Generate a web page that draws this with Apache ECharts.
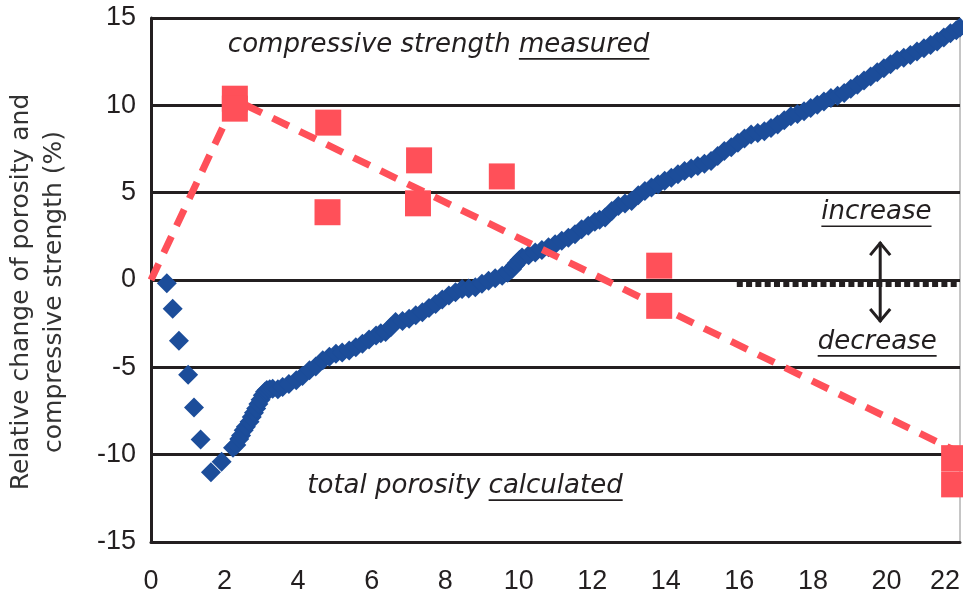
<!DOCTYPE html>
<html>
<head>
<meta charset="utf-8">
<script src="https://cdn.jsdelivr.net/npm/echarts@6/dist/echarts.min.js"></script>
<style>
  html, body { margin: 0; padding: 0; background: #ffffff; }
  #chart { width: 963px; height: 595px; }
</style>
</head>
<body>
<div id="chart"></div>
<script>
// Axis ticks
const xTicks = [0, 2, 4, 6, 8, 10, 12, 14, 16, 18, 20, 22];
const yTicks = [-15, -10, -5, 0, 5, 10, 15];

// Compressive strength, measured (relative change, %)
const strengthMeasured = [
  [2.28, 10.38], [2.28, 9.81], [4.82, 9.01], [4.80, 3.88],
  [7.29, 6.85], [7.26, 4.39], [9.54, 5.93],
  [13.82, 0.82], [13.82, -1.48],
  [21.84, -10.2], [21.84, -11.7]
];

// Trend through the measured strength
const strengthTrend = [[0, 0], [2.30, 10.3], [22, -9.9]];

// Total porosity, calculated (relative change, %)
const porosityCalculated = [
  [0.43, -0.19], [0.59, -1.65], [0.76, -3.48], [1.01, -5.42], [1.17, -7.30],
  [1.35, -9.13], [1.63, -11.0], [1.92, -10.4], [2.23, -9.6],
  [2.32, -9.45], [2.40, -9.1], [2.45, -8.9], [2.52, -8.6], [2.58, -8.4], [2.68, -8.12],
  [2.74, -7.85], [2.80, -7.6], [2.86, -7.35], [2.92, -7.1], [2.98, -6.85],
  [3.04, -6.6], [3.10, -6.4], [3.15, -6.3], [3.23, -6.25], [3.31, -6.22], [3.45, -6.25],
  [3.58, -6.12], [3.75, -5.95], [3.95, -5.74], [4.12, -5.5], [4.31, -5.17],
  [4.48, -4.95], [4.67, -4.6], [4.85, -4.4], [5.03, -4.22], [5.20, -4.15],
  [5.39, -4.03], [5.57, -3.85], [5.75, -3.65], [5.93, -3.4], [6.12, -3.18],
  [6.25, -3.05], [6.38, -2.98], [6.52, -2.7], [6.65, -2.41], [6.84, -2.35],
  [7.02, -2.22], [7.20, -2.02], [7.38, -1.84], [7.56, -1.6], [7.74, -1.37],
  [7.92, -1.12], [8.10, -0.89], [8.28, -0.7], [8.46, -0.51], [8.64, -0.48],
  [8.82, -0.42], [9.00, -0.22], [9.18, -0.04], [9.36, 0.1], [9.55, 0.25],
  [9.70, 0.42], [9.82, 0.63], [9.90, 0.85], [9.95, 0.98], [10.02, 1.15], [10.09, 1.29], [10.27, 1.42],
  [10.45, 1.58], [10.63, 1.72], [10.81, 1.87], [10.99, 2.05], [11.17, 2.24],
  [11.35, 2.42], [11.53, 2.62], [11.71, 2.9], [11.89, 3.1], [12.07, 3.33],
  [12.20, 3.45], [12.35, 3.58], [12.53, 3.95], [12.71, 4.24], [12.89, 4.38],
  [13.07, 4.53], [13.25, 4.85], [13.43, 5.1], [13.61, 5.3], [13.79, 5.48],
  [13.97, 5.68], [14.15, 5.86], [14.33, 6.05], [14.51, 6.24], [14.69, 6.38],
  [14.87, 6.52], [15.05, 6.65], [15.23, 6.81], [15.41, 7.1], [15.59, 7.38],
  [15.78, 7.6], [15.96, 7.86], [16.14, 8.1], [16.32, 8.33], [16.50, 8.42],
  [16.68, 8.52], [16.86, 8.7], [17.04, 8.9], [17.22, 9.15], [17.40, 9.37],
  [17.58, 9.5], [17.76, 9.66], [17.94, 9.85], [18.12, 10.04], [18.30, 10.22],
  [18.49, 10.42], [18.67, 10.55], [18.85, 10.71], [19.03, 10.95], [19.21, 11.18],
  [19.39, 11.42], [19.57, 11.65], [19.75, 11.9], [19.93, 12.13], [20.11, 12.35],
  [20.29, 12.59], [20.47, 12.72], [20.65, 12.88], [20.83, 13.08], [21.02, 13.27],
  [21.20, 13.45], [21.38, 13.65], [21.56, 13.88], [21.74, 14.12], [21.90, 14.3],
  [22.00, 14.45]
];

// Reference level marker just under zero
const zeroMarker = [[15.93, -0.23], [22, -0.23]];

const INK = '#231f20';
const RED = '#ff5059';
const BLUE = '#1c4d9a';
const TICK_FONT = '"Liberation Sans Narrow", "Liberation Sans", sans-serif';
const NOTE_FONT = '"DejaVu Sans", sans-serif';
const NOTE_SIZE = 26;

const chart = echarts.init(document.getElementById('chart'), null, { renderer: 'canvas' });

chart.setOption({
  animation: false,
  backgroundColor: '#ffffff',
  grid: {
    left: 151, right: 1, top: 18, bottom: 52,
    show: true, borderColor: '#8c8c8c', borderWidth: 1
  },
  xAxis: {
    type: 'value',
    min: xTicks[0],
    max: xTicks[xTicks.length - 1],
    interval: xTicks[1] - xTicks[0],
    axisLine: { show: true, onZero: false, lineStyle: { color: INK, width: 3 } },
    axisTick: { show: false },
    splitLine: { show: false },
    axisLabel: {
      margin: 26, fontFamily: TICK_FONT, fontSize: 27, color: INK,
      alignMaxLabel: 'right'
    }
  },
  yAxis: {
    type: 'value',
    min: yTicks[0],
    max: yTicks[yTicks.length - 1],
    interval: yTicks[1] - yTicks[0],
    axisLine: { show: true, onZero: false, lineStyle: { color: INK, width: 3 } },
    axisTick: { show: false },
    splitLine: { show: true, lineStyle: { color: INK, width: 3 } },
    axisLabel: { margin: 15, fontFamily: TICK_FONT, fontSize: 27, color: INK }
  },
  series: [
    {
      name: 'total porosity calculated',
      type: 'scatter',
      data: porosityCalculated,
      symbol: 'diamond',
      symbolSize: 20,
      itemStyle: { color: BLUE, opacity: 1 },
      z: 2
    },
    {
      name: 'strength trend',
      type: 'line',
      data: strengthTrend,
      symbol: 'none',
      clip: false,
      lineStyle: { color: RED, width: 7, type: [18, 12], cap: 'butt' },
      z: 3
    },
    {
      name: 'compressive strength measured',
      type: 'scatter',
      data: strengthMeasured,
      symbol: 'rect',
      symbolSize: 26,
      itemStyle: { color: RED, opacity: 1 },
      z: 4
    },
    {
      name: 'zero marker',
      type: 'line',
      data: zeroMarker,
      symbol: 'none',
      lineStyle: { color: INK, width: 6, type: [6, 3.3], cap: 'butt' },
      z: 3
    }
  ]
});

// Annotations placed in data coordinates
const measureCtx = document.createElement('canvas').getContext('2d');
const toPx = (pt) => chart.convertToPixel({ gridIndex: 0 }, pt);
const graphics = [];

function note(lead, underlined, at) {
  const [px, py] = toPx(at);
  const font = `italic ${NOTE_SIZE}px ${NOTE_FONT}`;
  measureCtx.font = font;
  const leadText = lead ? lead + ' ' : '';
  const leadW = leadText ? measureCtx.measureText(leadText).width : 0;
  const underW = measureCtx.measureText(underlined).width;
  graphics.push({
    type: 'text', x: px, y: py, z: 10,
    style: { text: leadText + underlined, font: font, fill: INK, align: 'left', verticalAlign: 'middle' }
  });
  graphics.push({
    type: 'line', z: 10,
    shape: { x1: px + leadW, y1: py + 14, x2: px + leadW + underW, y2: py + 14 },
    style: { stroke: INK, lineWidth: 1.6 }
  });
}

note('compressive strength', 'measured', [2.09, 13.46]);
note('total porosity', 'calculated', [4.25, -11.8]);
note('', 'increase', [18.23, 3.88]);
note('', 'decrease', [18.13, -3.54]);

// Double-headed arrow between "increase" and "decrease"
const [ax, ayTop] = toPx([19.83, 2.17]);
const [, ayBot] = toPx([19.83, -2.40]);
const arrowStyle = { stroke: INK, lineWidth: 3, fill: null };
graphics.push({ type: 'line', z: 10, shape: { x1: ax, y1: ayTop, x2: ax, y2: ayBot }, style: arrowStyle });
graphics.push({ type: 'polyline', z: 10, shape: { points: [[ax - 10, ayTop + 13], [ax, ayTop + 1], [ax + 10, ayTop + 13]] }, style: arrowStyle });
graphics.push({ type: 'polyline', z: 10, shape: { points: [[ax - 10, ayBot - 13], [ax, ayBot - 1], [ax + 10, ayBot - 13]] }, style: arrowStyle });

// Vertical axis title
graphics.push({
  type: 'text', x: 38, y: 292, rotation: Math.PI / 2, z: 10,
  style: {
    text: 'Relative change of porosity and\ncompressive strength (%)',
    font: `25px ${NOTE_FONT}`, fill: '#333333', align: 'center', verticalAlign: 'middle', lineHeight: 33
  }
});

chart.setOption({ graphic: graphics });
</script>
</body>
</html>
